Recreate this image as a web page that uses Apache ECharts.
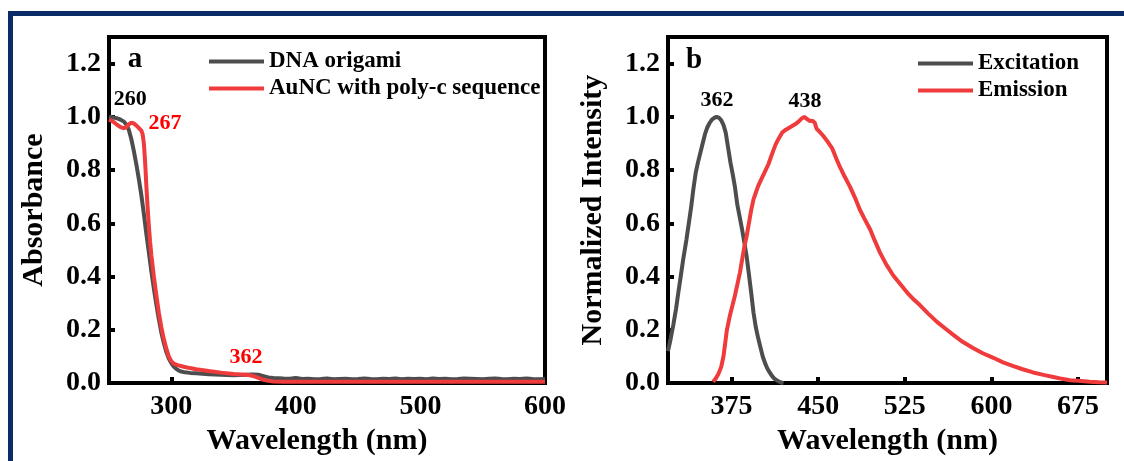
<!DOCTYPE html>
<html>
<head>
<meta charset="utf-8">
<script src="https://cdn.jsdelivr.net/npm/echarts@6/dist/echarts.min.js"></script>
<style>
html,body{margin:0;padding:0;background:#fff;}
#chart{width:1124px;height:461px;}
</style>
</head>
<body>
<div id="chart"></div>
<script>
// ---------- Panel a: absorbance ----------
const dnaX = [250,253,256,259,262,264,266,268,270,272,274,276,278,280,282,284,286,288,290,292,294,296,298,300,302,304,306,308,311,315,320,325,330,335,340,345,350,355,360,365,370,374,378,382,386,390,395,400,405,410,415,420,425,430,435,440,445,450,455,460,465,470,475,480,485,490,495,500,505,510,515,520,525,530,535,540,545,550,555,560,565,570,575,580,585,590,595,600];
const dnaY = [1.0,0.998,0.995,0.99,0.982,0.97,0.95,0.915,0.87,0.82,0.765,0.705,0.635,0.56,0.49,0.42,0.355,0.295,0.24,0.19,0.15,0.117,0.092,0.075,0.062,0.053,0.047,0.043,0.04,0.038,0.037,0.035,0.033,0.032,0.031,0.03,0.029,0.03,0.031,0.032,0.031,0.026,0.021,0.019,0.018,0.017,0.016,0.019,0.015,0.016,0.014,0.015,0.017,0.014,0.015,0.016,0.014,0.015,0.017,0.015,0.014,0.016,0.015,0.017,0.014,0.016,0.015,0.016,0.014,0.017,0.015,0.016,0.014,0.015,0.017,0.016,0.015,0.014,0.016,0.017,0.015,0.014,0.016,0.015,0.017,0.015,0.014,0.015];
const aunX = [250,253,256,259,262,264,266,268,270,272,274,276,277,278,279,280,281,282,283,284,286,288,290,292,294,296,298,300,302,305,310,315,320,330,340,350,356,362,366,370,374,378,382,390,400,450,500,550,600];
const aunY = [0.99,0.983,0.972,0.962,0.957,0.962,0.972,0.978,0.975,0.967,0.958,0.948,0.935,0.9,0.83,0.74,0.66,0.59,0.53,0.48,0.4,0.33,0.265,0.21,0.165,0.13,0.1,0.082,0.073,0.067,0.061,0.056,0.052,0.045,0.039,0.034,0.032,0.03,0.026,0.019,0.012,0.008,0.006,0.005,0.005,0.005,0.005,0.005,0.005];
const aTicksX = [300,400,500,600];
const aTicksY = [0,0.2,0.4,0.6,0.8,1.0,1.2];
const aNotes = [
  {text:'260', x:267, y:1.064, color:'#000'},
  {text:'267', x:295, y:0.977, color:'#ff0000'},
  {text:'362', x:360, y:0.098, color:'#ff0000'}
];

// ---------- Panel b: excitation / emission ----------
const excX = [320,322,324.6,327,329,331,333.2,336,338,340,342,344,346,348,350,352,354,356,358,360,362,364,366,368,370,372,374,376,378,380,382,384,386,388,390,392,394,396,398,400,402,404,406,408,410,412,414,416,418,420];
const excY = [0.12,0.16,0.219,0.28,0.342,0.4,0.466,0.54,0.6,0.66,0.73,0.79,0.83,0.865,0.9,0.935,0.96,0.977,0.99,0.996,1.0,0.997,0.988,0.97,0.94,0.885,0.83,0.785,0.735,0.67,0.625,0.58,0.53,0.478,0.41,0.34,0.265,0.21,0.17,0.135,0.1,0.075,0.055,0.04,0.027,0.017,0.011,0.006,0.002,0.0];
const emiX = [359,361,363.5,366,368,369.5,371,373.7,376,378,380,382.3,384,386,388,390,392,394,396,398,401,404,407,410,413,416,419,422,426,430,433,436,438,440,443,445,447,448.7,451,454.5,458,462,466,469,473,477.6,482,486,490,495,499,503.5,509,515,521,527,533,538,545,552.6,560,567,575,584,592,601.6,610,619,627,636,645,653.6,661,668,675,685,693,700];
const emiY = [0.005,0.015,0.033,0.06,0.1,0.15,0.2,0.256,0.295,0.33,0.37,0.416,0.46,0.51,0.55,0.6,0.65,0.69,0.715,0.74,0.768,0.795,0.823,0.86,0.895,0.92,0.942,0.952,0.962,0.972,0.982,0.995,1.0,0.993,0.984,0.986,0.978,0.955,0.945,0.928,0.908,0.883,0.84,0.81,0.775,0.737,0.695,0.652,0.618,0.577,0.535,0.49,0.445,0.404,0.372,0.34,0.313,0.293,0.262,0.231,0.205,0.181,0.155,0.132,0.113,0.095,0.078,0.064,0.052,0.04,0.031,0.023,0.016,0.011,0.009,0.005,0.003,0.002];
const bTicksX = [375,450,525,600,675];
const bTicksY = [0,0.2,0.4,0.6,0.8,1.0,1.2];
const bNotes = [
  {text:'362', x:362.4, y:1.063, color:'#000'},
  {text:'438', x:438.6, y:1.06, color:'#000'}
];

const FONT = "'Liberation Serif','Times New Roman',serif";
const GRAY = '#4d4d4d';
const RED = '#ef3b3b';
const zip = (xs, ys) => xs.map((x, i) => [x, ys[i]]);

function xAxisCfg(idx, min, max, ticks, namePad) {
  return {
    type:'value', gridIndex: idx, min, max,
    name:'Wavelength (nm)', nameLocation:'middle', nameGap:38,
    nameTextStyle:{fontFamily:FONT, fontWeight:'bold', fontSize:30, color:'#000', padding:namePad},
    axisLine:{show:true, onZero:false, lineStyle:{color:'#000', width:4}},
    axisTick:{show:true, inside:true, length:6, customValues:ticks, lineStyle:{color:'#000', width:4}},
    axisLabel:{show:true, margin:10, customValues:ticks, fontFamily:FONT, fontWeight:'bold', fontSize:28, color:'#000'},
    splitLine:{show:false}
  };
}
function yAxisCfg(idx, name, ticks) {
  return {
    type:'value', gridIndex: idx, min:0, max:1.3,
    name, nameLocation:'middle', nameGap:60,
    nameTextStyle:{fontFamily:FONT, fontWeight:'bold', fontSize:30, color:'#000'},
    axisLine:{show:true, lineStyle:{color:'#000', width:4}},
    axisTick:{show:true, inside:true, length:6, customValues:ticks, lineStyle:{color:'#000', width:4}},
    axisLabel:{show:true, margin:8, customValues:ticks, formatter:v => v.toFixed(1), fontFamily:FONT, fontWeight:'bold', fontSize:28, color:'#000'},
    splitLine:{show:false}
  };
}
function notes(list) {
  return {
    symbol:'circle', symbolSize:0, silent:true,
    data: list.map(n => ({
      coord:[n.x, n.y], name:n.text,
      label:{show:true, position:'inside', formatter:'{b}', color:n.color, fontFamily:FONT, fontWeight:'bold', fontSize:22}
    }))
  };
}
function lineSeries(name, data, color, xi, mp) {
  const s = {
    name, type:'line', xAxisIndex:xi, yAxisIndex:xi, data, symbol:'none', smooth:false,
    lineStyle:{color, width:4}, itemStyle:{color}, animation:false, clip:true, z:3
  };
  if (mp) s.markPoint = mp;
  return s;
}
const legendText = {fontFamily:FONT, fontWeight:'bold', fontSize:23, color:'#000', lineHeight:23};

const chart = echarts.init(document.getElementById('chart'), null, {renderer:'canvas'});
chart.setOption({
  backgroundColor:'#fff',
  animation:false,
  grid:[
    {left:109, top:37, width:436, height:346, show:true, borderColor:'#000', borderWidth:4, backgroundColor:'transparent'},
    {left:668, top:37, width:439, height:352, show:true, borderColor:'#000', borderWidth:4, backgroundColor:'transparent'}
  ],
  xAxis:[xAxisCfg(0, 250, 600, aTicksX, [0,20,0,0]), xAxisCfg(1, 320, 700, bTicksX, 0)],
  yAxis:[yAxisCfg(0, 'Absorbance', aTicksY), yAxisCfg(1, 'Normalized Intensity', bTicksY)],
  legend:[
    {data:['DNA origami','AuNC with poly-c sequence'], orient:'vertical', left:209, top:50, padding:0, itemGap:4,
     icon:'rect', itemWidth:55, itemHeight:4, textStyle:legendText},
    {data:['Excitation','Emission'], orient:'vertical', left:918, top:52, padding:0, itemGap:4,
     icon:'rect', itemWidth:55, itemHeight:4, textStyle:legendText}
  ],
  series:[
    lineSeries('DNA origami', zip(dnaX, dnaY), GRAY, 0, notes(aNotes)),
    lineSeries('AuNC with poly-c sequence', zip(aunX, aunY), RED, 0),
    lineSeries('Excitation', zip(excX, excY), GRAY, 1, notes(bNotes)),
    lineSeries('Emission', zip(emiX, emiY), RED, 1)
  ],
  graphic:[
    {type:'rect', left:8, top:11, shape:{width:1116, height:5}, style:{fill:'#0b2a68'}},
    {type:'rect', left:8, top:11, shape:{width:5, height:450}, style:{fill:'#0b2a68'}},
    {type:'text', x:135, y:60, style:{text:'a', font:'bold 29px ' + FONT, fill:'#000', textAlign:'center', textVerticalAlign:'middle'}},
    {type:'text', x:694, y:61, style:{text:'b', font:'bold 29px ' + FONT, fill:'#000', textAlign:'center', textVerticalAlign:'middle'}}
  ]
});
</script>
</body>
</html>
